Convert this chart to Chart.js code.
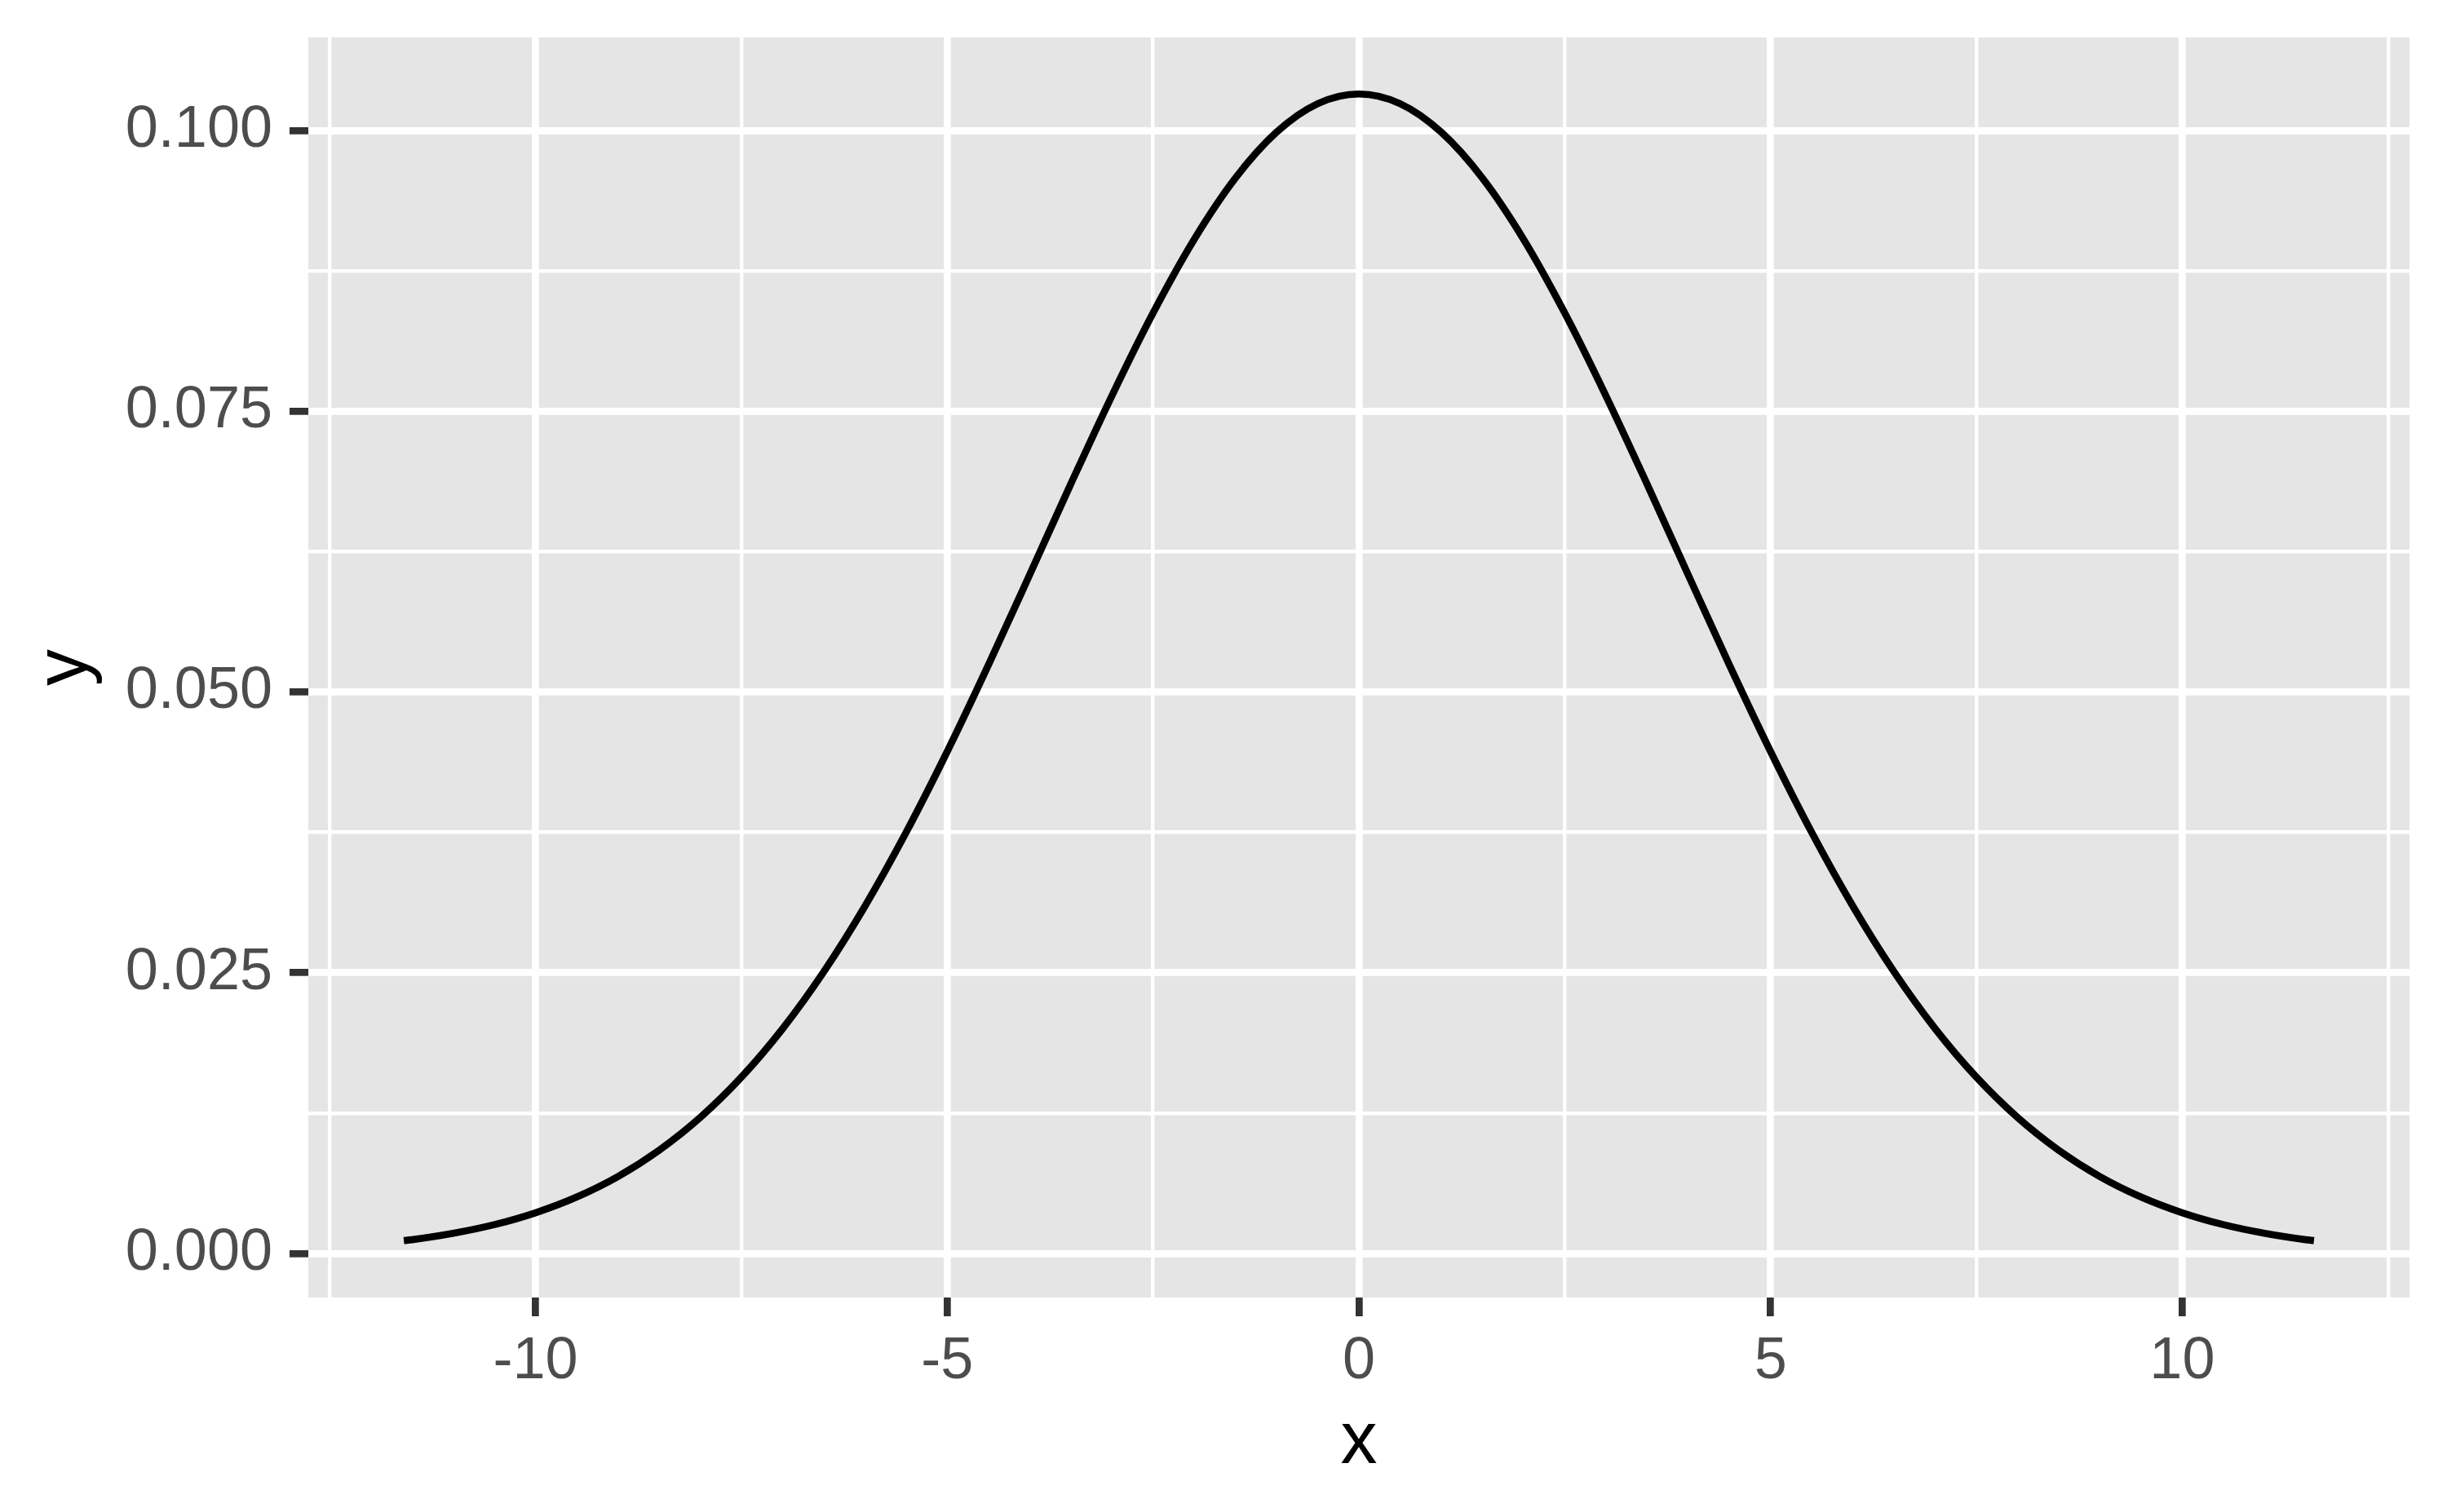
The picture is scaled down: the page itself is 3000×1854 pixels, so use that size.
<!DOCTYPE html>
<html>
<head>
<meta charset="utf-8">
<script src="https://cdn.jsdelivr.net/npm/chart.js@4"></script>
<style>
  html, body { margin: 0; padding: 0; background: #ffffff; }
  #wrap { width: 3000px; height: 1854px; position: relative; }
</style>
</head>
<body>
<div id="wrap"><canvas id="c" width="3000" height="1854"></canvas></div>
<script>
// ---- data ----
const xValues = [-11.6, -11.5, -11, -10.5, -10, -9.5, -9, -8.5, -8, -7.5, -7, -6.5, -6, -5.5, -5, -4.5, -4, -3.5, -3, -2.5, -2, -1.5, -1, -0.5,
                 0, 0.5, 1, 1.5, 2, 2.5, 3, 3.5, 4, 4.5, 5, 5.5, 6, 6.5, 7, 7.5, 8, 8.5, 9, 9.5, 10, 10.5, 11, 11.5, 11.6];
const yValues = [0.00115, 0.00123, 0.00180, 0.00257, 0.00363, 0.00503, 0.00685, 0.00919, 0.01211, 0.01570, 0.02001, 0.02508, 0.03092, 0.03749, 0.04470, 0.05241, 0.06042, 0.06851, 0.07638, 0.08375, 0.09031, 0.09576, 0.09985, 0.10239,
                 0.10325, 0.10239, 0.09985, 0.09576, 0.09031, 0.08375, 0.07638, 0.06851, 0.06042, 0.05241, 0.04470, 0.03749, 0.03092, 0.02508, 0.02001, 0.01570, 0.01211, 0.00919, 0.00685, 0.00503, 0.00363, 0.00257, 0.00180, 0.00123, 0.00115];

const xMajorTicks = [-10, -5, 0, 5, 10];
const xTickLabels = ['-10', '-5', '0', '5', '10'];
const xMinorTicks = [-12.5, -7.5, -2.5, 2.5, 7.5, 12.5];
const yMajorTicks = [0, 0.025, 0.05, 0.075, 0.1];
const yTickLabels = ['0.000', '0.025', '0.050', '0.075', '0.100'];
const yMinorTicks = [0.0125, 0.0375, 0.0625, 0.0875];
const xRange = [-12.76, 12.76];
const yRange = [-0.00392, 0.10828];
const xTitle = 'x';
const yTitle = 'y';

// ---- styling ----
const FONT = "'Liberation Sans', Arial, Helvetica, sans-serif";
const MAJOR_W = 8.7, MINOR_W = 4.4;

function isMajor(list, v) { return list.some(m => Math.abs(m - v) < 1e-9); }

const panelBg = {
  id: 'panelBg',
  beforeDraw(chart) {
    const { ctx, chartArea: a } = chart;
    ctx.save();
    ctx.fillStyle = '#E5E5E5';
    ctx.fillRect(a.left, a.top, a.right - a.left, a.bottom - a.top);
    ctx.restore();
  }
};

const points = xValues.map((x, i) => ({ x: x, y: yValues[i] }));

new Chart(document.getElementById('c'), {
  type: 'line',
  data: {
    datasets: [{
      data: points,
      borderColor: '#000000',
      borderWidth: MAJOR_W,
      pointRadius: 0,
      fill: false,
      cubicInterpolationMode: 'monotone',
      borderCapStyle: 'butt'
    }]
  },
  plugins: [panelBg],
  options: {
    responsive: false,
    animation: false,
    devicePixelRatio: 1,
    layout: { padding: { left: 0, top: 46, right: 46, bottom: 0 } },
    plugins: { legend: { display: false }, tooltip: { enabled: false } },
    scales: {
      x: {
        type: 'linear',
        min: xRange[0], max: xRange[1],
        afterBuildTicks(scale) {
          scale.ticks = [...xMajorTicks, ...xMinorTicks].sort((a, b) => a - b).map(v => ({ value: v }));
        },
        afterFit(scale) {
          scale.height = 263;
          scale.paddingLeft = 0; scale.paddingRight = 0;
          scale.paddingTop = 0; scale.paddingBottom = 0;
        },
        border: { display: false },
        grid: {
          color: '#FFFFFF',
          lineWidth: ctx => isMajor(xMajorTicks, ctx.tick.value) ? MAJOR_W : MINOR_W,
          drawTicks: true,
          tickLength: 23,
          tickWidth: MAJOR_W,
          tickColor: ctx => isMajor(xMajorTicks, ctx.tick.value) ? '#333333' : 'rgba(0,0,0,0)'
        },
        ticks: {
          autoSkip: false,
          maxRotation: 0,
          padding: 13,
          color: '#4D4D4D',
          font: { family: FONT, size: 72 },
          callback: (v) => {
            const i = xMajorTicks.findIndex(m => Math.abs(m - v) < 1e-9);
            return i >= 0 ? xTickLabels[i] : '';
          }
        },
        title: {
          display: true, text: xTitle, color: '#000000',
          font: { family: FONT, size: 90 },
          padding: { top: 0, bottom: 31 }
        }
      },
      y: {
        type: 'linear',
        min: yRange[0], max: yRange[1],
        afterBuildTicks(scale) {
          scale.ticks = [...yMajorTicks, ...yMinorTicks].sort((a, b) => a - b).map(v => ({ value: v }));
        },
        afterFit(scale) {
          scale.width = 378;
          scale.paddingLeft = 0; scale.paddingRight = 0;
          scale.paddingTop = 0; scale.paddingBottom = 0;
        },
        border: { display: false },
        grid: {
          color: '#FFFFFF',
          lineWidth: ctx => isMajor(yMajorTicks, ctx.tick.value) ? MAJOR_W : MINOR_W,
          drawTicks: true,
          tickLength: 23,
          tickWidth: MAJOR_W,
          tickColor: ctx => isMajor(yMajorTicks, ctx.tick.value) ? '#333333' : 'rgba(0,0,0,0)'
        },
        ticks: {
          autoSkip: false,
          padding: 21,
          color: '#4D4D4D',
          font: { family: FONT, size: 72 },
          callback: (v) => {
            const i = yMajorTicks.findIndex(m => Math.abs(m - v) < 1e-9);
            return i >= 0 ? yTickLabels[i] : '';
          }
        },
        title: {
          display: true, text: yTitle, color: '#000000',
          font: { family: FONT, size: 90 },
          padding: { top: 27, bottom: 0 }
        }
      }
    }
  }
});
</script>
</body>
</html>
